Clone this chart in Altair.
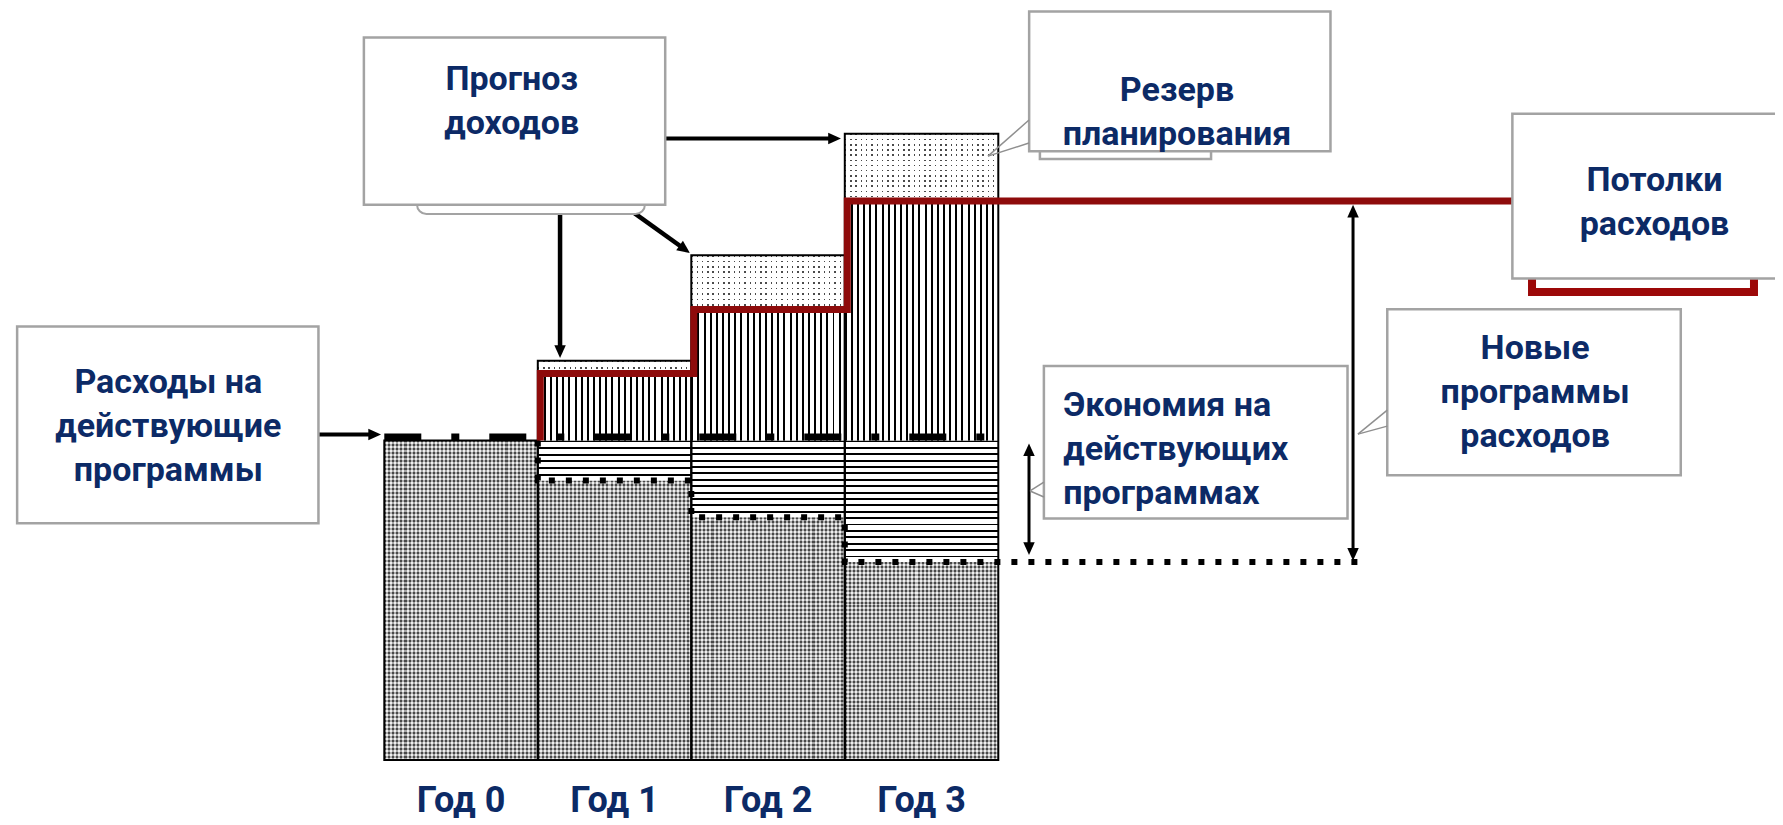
import math
import altair as alt
import pandas as pd

# ---------------- data (conceptual units; Год 0 current spending = 100) ----------------
years = ["Год 0", "Год 1", "Год 2", "Год 3"]
existing = [100, 87.5, 76, 62]        # действующие программы после экономии
baseline = 100                         # уровень расходов на действующие программы
ceilings = [100, 121, 141, 175]        # потолки расходов
revenue = [100, 125, 158, 196]         # прогноз доходов

forecast_lbl = ["Прогноз", "доходов"]
reserve_lbl = ["Резерв", "планирования"]
ceiling_lbl = ["Потолки", "расходов"]
newprog_lbl = ["Новые", "программы", "расходов"]
savings_lbl = ["Экономия на", "действующих", "программах"]
existing_lbl = ["Расходы на", "действующие", "программы"]

# ---------------- canvas & scales ----------------
W, H = 1767, 815
PX_X = 153.5      # px per year
PX_Y = 3.195      # px per unit
X0_PX = 376.3     # plot px of year-0 left edge
Y0_PX = 752.0     # plot px of value 0
xs = alt.Scale(domain=[-X0_PX / PX_X, (W - X0_PX) / PX_X], nice=False, zero=False)
ys = alt.Scale(domain=[(Y0_PX - H) / PX_Y, Y0_PX / PX_Y], nice=False, zero=False)

NAVY = "#0c2a66"
RED = "#8e0b0b"
GREY = "#a3a3a3"
FONT = "Roboto"
FS = 34
LINE_STEP = 13.8


def X(f="x"):
    return alt.X(f"{f}:Q", scale=xs, axis=None)


def Y(f="y"):
    return alt.Y(f"{f}:Q", scale=ys, axis=None)


def rect(df, **mk):
    return alt.Chart(df).mark_rect(**mk).encode(
        x=X("x"), x2=alt.X2("x2"), y=Y("y"), y2=alt.Y2("y2"))


def texture(n, frac, c_line, c_bg, vertical_lines=True):
    n = max(1, int(n))
    stops = []
    for k in range(n):
        a = k / n
        b = (k + frac) / n
        c = min((k + 1) / n, 1.0)
        stops += [
            {"offset": round(a, 5), "color": c_line},
            {"offset": round(b, 5), "color": c_line},
            {"offset": round(b, 5), "color": c_bg},
            {"offset": round(c, 5), "color": c_bg},
        ]
    if vertical_lines:
        coords = dict(x1=0, y1=0, x2=1, y2=0)
    else:
        coords = dict(x1=0, y1=0, x2=0, y2=1)
    return {"gradient": "linear", **coords, "stops": stops}


def cell(x, x2, y, y2):
    return pd.DataFrame({"x": [x], "x2": [x2], "y": [y], "y2": [y2]})


layers = []

# ---- crosshatched existing programmes ----
for i in range(len(years)):
    df = cell(i, i + 1, 0, existing[i])
    h = existing[i] * PX_Y
    layers.append(rect(df, fill=texture(round(PX_X / 4), 0.5, "#5c5c5c", "#e2e2e2", True)))
    layers.append(rect(df, fill=texture(round(h / 4), 0.5, "rgba(0,0,0,0.22)",
                                        "rgba(255,255,255,0.45)", False)))

# ---- savings (horizontal), new programmes (vertical), reserve (dots) ----
for i in range(1, len(years)):
    h = (baseline - existing[i]) * PX_Y
    layers.append(rect(cell(i, i + 1, existing[i], baseline),
                       fill=texture(round(h / 6.3), 0.3, "#000000", "#ffffff", False)))
    layers.append(rect(cell(i, i + 1, baseline, ceilings[i]),
                       fill=texture(round(PX_X / 6.2), 0.32, "#000000", "#ffffff", True)))
    h = (revenue[i] - ceilings[i]) * PX_Y
    df = cell(i, i + 1, ceilings[i], revenue[i])
    layers.append(rect(df, fill=texture(round(PX_X / 5.3), 0.28, "#4a4a4a", "#ffffff", True)))
    layers.append(rect(df, fill=texture(round(h / 5.3), 0.28, "rgba(255,255,255,0)",
                                        "#ffffff", False)))

# ---- column outlines ----
outl = pd.DataFrame({"x": list(range(len(years))),
                     "x2": [i + 1 for i in range(len(years))],
                     "y": [0] * len(years), "y2": revenue})
layers.append(rect(outl, fillOpacity=0, stroke="black", strokeWidth=2))

# ---- dashed baseline of existing programmes ----
dash_df = pd.DataFrame({"x": [0], "x2": [len(years)], "y": [baseline]})
layers.append(alt.Chart(dash_df).mark_rule(
    color="black", strokeWidth=7, strokeDash=[37, 30, 8, 30], yOffset=-3.5
).encode(x=X("x"), x2=alt.X2("x2"), y=Y("y")))

# ---- dotted savings line ----
SAV_TAIL = 6.35
sav_x = [1] + list(range(1, len(years))) + [SAV_TAIL]
sav_y = [baseline] + existing[1:] + [existing[-1]]
sav_df = pd.DataFrame({"x": sav_x, "y": sav_y, "i": list(range(len(sav_x)))})
layers.append(alt.Chart(sav_df).mark_line(
    color="black", strokeWidth=6, strokeDash=[6, 11], interpolate="step-after"
).encode(x=X("x"), y=Y("y"), order=alt.Order("i:Q")))

# ---- red ceiling line ----
RED_TAIL = 7.45
red_x = [1] + list(range(1, len(years))) + [RED_TAIL]
red_y = [baseline] + ceilings[1:] + [ceilings[-1]]
red_df = pd.DataFrame({"x": red_x, "y": red_y, "i": list(range(len(red_x)))})
layers.append(alt.Chart(red_df).mark_line(
    color=RED, strokeWidth=7, interpolate="step-after", xOffset=2.5
).encode(x=X("x"), y=Y("y"), order=alt.Order("i:Q")))

# ---- arrows ----
ARROW_PATH = "M0,0L-0.45,1L0.45,1Z"
HEAD_SIZE = 650
HEAD_LEN = math.sqrt(HEAD_SIZE) / 2
arrows = [  # x1, y1, x2, y2, width, double
    (-0.432, 101.9, -0.021, 101.9, 4, False),
    (1.829, 194.5, 2.975, 194.5, 4, False),
    (1.145, 170.9, 1.145, 125.8, 4.5, False),
    (1.620, 171.5, 1.991, 158.7, 4.5, False),
    (4.200, 99.1, 4.200, 64.2, 3, True),
    (6.311, 173.8, 6.311, 62.4, 3, True),
]
shafts, heads = [], []
for x1, y1, x2, y2, w, dbl in arrows:
    dx = (x2 - x1) * PX_X
    dy = -(y2 - y1) * PX_Y
    L = math.hypot(dx, dy)
    ux, uy = dx / L, dy / L
    ang = math.degrees(math.atan2(ux, -uy)) % 360
    back = HEAD_LEN * 0.7
    sx2 = x2 - ux * back / PX_X
    sy2 = y2 + uy * back / PX_Y
    sx1, sy1 = x1, y1
    heads.append({"x": x2, "y": y2, "ang": ang})
    if dbl:
        sx1 = x1 + ux * back / PX_X
        sy1 = y1 - uy * back / PX_Y
        heads.append({"x": x1, "y": y1, "ang": (ang + 180) % 360})
    shafts.append({"x": sx1, "y": sy1, "x2": sx2, "y2": sy2, "w": w})
layers.append(alt.Chart(pd.DataFrame(shafts)).mark_rule(color="black").encode(
    x=X("x"), y=Y("y"), x2=alt.X2("x2"), y2=alt.Y2("y2"),
    strokeWidth=alt.StrokeWidth("w:Q", scale=None)))
layers.append(alt.Chart(pd.DataFrame(heads)).mark_point(
    shape=ARROW_PATH, filled=True, size=HEAD_SIZE, color="black", opacity=1, strokeWidth=0
).encode(x=X("x"), y=Y("y"), angle=alt.Angle("ang:Q", scale=None)))

# ---- shadows / bracket behind boxes ----
layers.append(rect(cell(7.477, 8.923, 159.6, 146.5), fillOpacity=0, stroke="#9c0808", strokeWidth=8))
layers.append(rect(cell(0.213, 1.698, 176.8, 170.9), fill="white", stroke=GREY,
                   strokeWidth=2, cornerRadius=10))
layers.append(rect(cell(4.271, 5.386, 194.1, 188.1), fill="white", stroke=GREY, strokeWidth=2.5))

# ---- annotation boxes ----
boxes = pd.DataFrame([
    {"x": -0.133, "x2": 1.830, "y": 173.8, "y2": 226.1},
    {"x": 4.201, "x2": 6.164, "y": 190.5, "y2": 234.3},
    {"x": 7.349, "x2": 9.4, "y": 150.7, "y2": 202.3},
    {"x": 6.534, "x2": 8.446, "y": 89.1, "y2": 141.1},
    {"x": 4.297, "x2": 6.275, "y": 75.6, "y2": 123.3},
    {"x": -2.392, "x2": -0.429, "y": 74.1, "y2": 135.7},
])
layers.append(rect(boxes, fill="white", stroke=GREY, strokeWidth=2.5))

# ---- callout wedges ----
wedges = pd.DataFrame([
    {"x": 4.200, "y": 200.3, "x2": 3.933, "y2": 189.0},
    {"x": 4.200, "y": 193.1, "x2": 3.933, "y2": 189.0},
    {"x": 6.534, "y": 109.5, "x2": 6.343, "y2": 102.0},
    {"x": 6.534, "y": 104.5, "x2": 6.343, "y2": 102.0},
    {"x": 4.297, "y": 87.0, "x2": 4.207, "y2": 84.2},
    {"x": 4.297, "y": 82.3, "x2": 4.207, "y2": 84.2},
])
layers.append(alt.Chart(wedges).mark_rule(color="#8f8f8f", strokeWidth=1.5).encode(
    x=X("x"), y=Y("y"), x2=alt.X2("x2"), y2=alt.Y2("y2")))

# ---- texts ----
def text_rows(lines, x, y0):
    return [{"x": x, "y": y0 - k * LINE_STEP, "t": s} for k, s in enumerate(lines)]


centered = (text_rows(forecast_lbl, 0.830, 209.7) + text_rows(reserve_lbl, 5.164, 206.3)
            + text_rows(ceiling_lbl, 8.275, 178.1) + text_rows(newprog_lbl, 7.497, 125.5)
            + text_rows(existing_lbl, -1.407, 114.9))
left = text_rows(savings_lbl, 4.423, 107.7)
for rows, al in ((centered, "center"), (left, "left")):
    layers.append(alt.Chart(pd.DataFrame(rows)).mark_text(
        font=FONT, fontSize=FS, fontWeight="bold", color=NAVY, align=al, baseline="alphabetic"
    ).encode(x=X("x"), y=Y("y"), text="t:N"))

LABEL_V = -16.2
yl = pd.DataFrame({"x": [i + 0.5 for i in range(len(years))], "y": [LABEL_V] * len(years),
                   "t": years})
layers.append(alt.Chart(yl).mark_text(
    font=FONT, fontSize=36, fontWeight="bold", color=NAVY, align="center", baseline="alphabetic"
).encode(x=X("x"), y=Y("y"), text="t:N"))

chart = alt.layer(*layers).properties(
    width=W, height=H, padding=0, autosize=alt.AutoSizeParams(type="none"),
    background="white"
).configure_view(strokeWidth=0)

chart.save("out.html", embed_options={"renderer": "svg", "actions": False})
